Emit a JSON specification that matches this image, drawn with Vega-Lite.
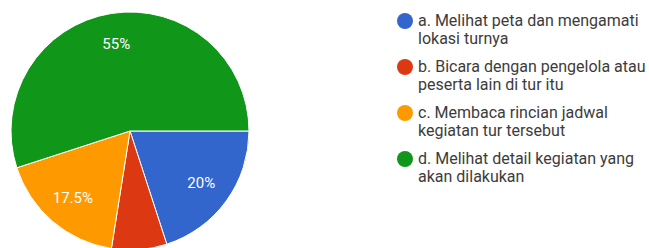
{
  "$schema": "https://vega.github.io/schema/vega-lite/v6.json",
  "width": 260,
  "height": 262,
  "padding": 0,
  "autosize": {"type": "pad"},
  "background": "white",
  "view": {"stroke": null},
  "data": {
    "values": [
      {"key": "a", "label": "a. Melihat peta dan mengamati\nlokasi turnya", "value": 20, "pct": "20%"},
      {"key": "b", "label": "b. Bicara dengan pengelola atau\npeserta lain di tur itu", "value": 7.5, "pct": ""},
      {"key": "c", "label": "c. Membaca rincian jadwal\nkegiatan tur tersebut", "value": 17.5, "pct": "17.5%"},
      {"key": "d", "label": "d. Melihat detail kegiatan yang\nakan dilakukan", "value": 55, "pct": "55%"}
    ]
  },
  "encoding": {
    "theta": {"field": "value", "type": "quantitative", "stack": true, "scale": {"range": [1.5708, 7.854]}},
    "order": {"field": "key"}
  },
  "layer": [
    {
      "mark": {"type": "arc", "outerRadius": 119, "stroke": "white", "strokeWidth": 1},
      "encoding": {
        "color": {
          "field": "label",
          "type": "nominal",
          "scale": {"range": ["#3366cc", "#dc3912", "#ff9900", "#109618"]},
          "legend": {
            "orient": "none",
            "legendX": 397,
            "legendY": 13,
            "title": null,
            "symbolType": "circle",
            "symbolSize": 256,
            "symbolStrokeWidth": 0,
            "symbolOpacity": 1,
            "labelFont": "Roboto",
            "labelFontSize": 16,
            "labelColor": "#3c3c3c",
            "labelOffset": 5,
            "labelLimit": 300,
            "labelExpr": "split(datum.label, '\\n')",
            "rowPadding": 12,
            "encode": {"labels": {"update": {"lineHeight": {"value": 22}}}}
          }
        }
      }
    },
    {
      "mark": {"type": "text", "radius": 88, "fontSize": 15, "font": "Roboto", "baseline": "middle", "align": "center"},
      "encoding": {
        "text": {"field": "pct"},
        "color": {"value": "white"}
      }
    }
  ]
}
